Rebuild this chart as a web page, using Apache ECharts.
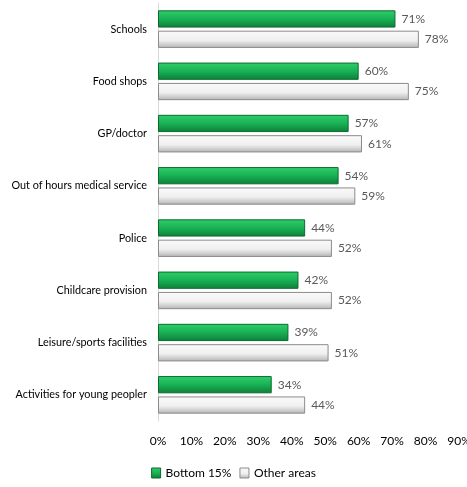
<!DOCTYPE html>
<html>
<head>
<meta charset="utf-8">
<script src="https://cdn.jsdelivr.net/npm/echarts@6/dist/echarts.min.js"></script>
<style>
  html, body { margin: 0; padding: 0; background: #fff; }
  #chart { width: 467px; height: 487px; }
</style>
</head>
<body>
<div id="chart"></div>
<script>
// categories, top to bottom as in the picture
var categories = ['Schools', 'Food shops', 'GP/doctor', 'Out of hours medical service',
                  'Police', 'Childcare provision', 'Leisure/sports facilities', 'Activities for young peopler'];
var bottom15 = [71, 60, 57, 54, 44, 42, 39, 34];
var otherAreas = [78, 75, 61, 59, 52, 52, 51, 44];
var seriesNames = ['Bottom 15%', 'Other areas'];

var font = 'Lato, Roboto, sans-serif';

var chart = echarts.init(document.getElementById('chart'));

var greenFill = new echarts.graphic.LinearGradient(0, 0, 0, 1, [
    { offset: 0, color: '#2fcf6a' },
    { offset: 0.5, color: '#19b155' },
    { offset: 1, color: '#0c7f38' }
]);
var greyFill = new echarts.graphic.LinearGradient(0, 0, 0, 1, [
    { offset: 0, color: '#fafafa' },
    { offset: 0.55, color: '#f0f0f0' },
    { offset: 1, color: '#b4b4b4' }
]);

var labelStyle = {
    show: true,
    position: 'right',
    distance: 6,
    formatter: '{c}%',
    color: '#595959',
    fontFamily: font,
    fontSize: 12
};

chart.setOption({
    animation: false,
    grid: { left: 158, right: 8, top: 3, bottom: 66, outerBoundsMode: 'none', containLabel: false },
    legend: {
        bottom: 3,
        left: 'center',
        icon: 'rect',
        itemWidth: 9,
        itemHeight: 10,
        itemGap: 8,
        itemStyle: { borderWidth: 1 },
        textStyle: { fontFamily: font, fontSize: 12, color: '#000' },
        data: seriesNames
    },
    xAxis: {
        type: 'value',
        min: 0,
        max: 90,
        interval: 10,
        axisLine: { show: false },
        axisTick: { show: false },
        splitLine: { show: false },
        axisLabel: { formatter: '{value}%', fontFamily: font, fontSize: 12, color: '#000', margin: 14 }
    },
    yAxis: {
        type: 'category',
        inverse: true,
        data: categories,
        axisLine: { show: true, lineStyle: { color: '#d9d9d9' } },
        axisTick: { show: false },
        axisLabel: { fontFamily: font, fontSize: 10.8, color: '#000', margin: 11 }
    },
    series: [
        {
            name: seriesNames[0],
            type: 'bar',
            data: bottom15,
            barCategoryGap: '28%',
            barGap: '18%',
            itemStyle: { color: greenFill, borderColor: '#0b6b2f', borderWidth: 1 },
            label: labelStyle
        },
        {
            name: seriesNames[1],
            type: 'bar',
            data: otherAreas,
            itemStyle: { color: greyFill, borderColor: '#8c8c8c', borderWidth: 1 },
            label: labelStyle
        }
    ]
});
</script>
</body>
</html>
